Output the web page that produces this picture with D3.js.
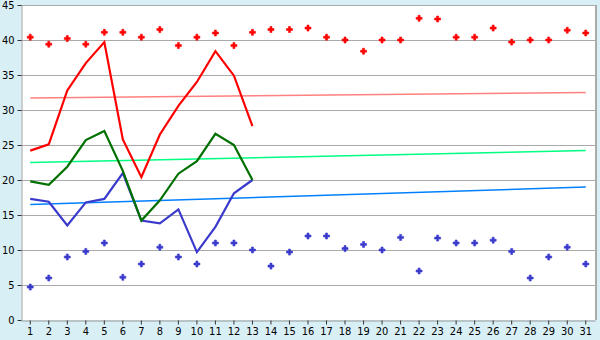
<!DOCTYPE html>
<html>
<head>
<meta charset="utf-8">
<script src="https://cdn.jsdelivr.net/npm/d3@7"></script>
<style>
  body { margin: 0; background: #d9eff6; }
  svg { display: block; }
  text { font-family: "DejaVu Sans Condensed", "DejaVu Sans", sans-serif; font-size: 11px; fill: #000; }
</style>
</head>
<body>
<svg id="chart" width="600" height="340"></svg>
<script>
var days = [1, 2, 3, 4, 5, 6, 7, 8, 9, 10, 11, 12, 13, 14, 15, 16,
            17, 18, 19, 20, 21, 22, 23, 24, 25, 26, 27, 28, 29, 30, 31];
var yTicks = [0, 5, 10, 15, 20, 25, 30, 35, 40, 45];

var redLine   = [24.2, 25.1, 32.8, 36.7, 39.7, 25.8, 20.4, 26.5, 30.6, 34.0, 38.4, 34.9, 27.7];
var greenLine = [19.8, 19.3, 21.9, 25.7, 27.0, 21.3, 14.2, 17.1, 20.9, 22.7, 26.6, 25.0, 20.0];
var blueLine  = [17.3, 16.9, 13.5, 16.8, 17.3, 21.0, 14.2, 13.8, 15.8, 9.7, 13.3, 18.1, 20.0];

var redDots = [40.4, 39.4, 40.2, 39.4, 41.1, 41.1, 40.4, 41.5, 39.2, 40.4, 41.0, 39.2, 41.1, 41.5, 41.5, 41.7,
               40.4, 40.0, 38.4, 40.0, 40.0, 43.1, 43.0, 40.4, 40.4, 41.7, 39.7, 40.0, 40.0, 41.4, 41.0];
var blueDots = [4.7, 6.0, 9.0, 9.8, 11.0, 6.1, 8.0, 10.4, 9.0, 8.0, 11.0, 11.0, 10.0, 7.7, 9.7, 12.0,
                12.0, 10.2, 10.8, 10.0, 11.8, 7.0, 11.7, 11.0, 11.0, 11.4, 9.8, 6.0, 9.0, 10.4, 8.0];

// trend lines: value at day 1 and day 31
var redTrend   = [31.7, 32.5];
var greenTrend = [22.5, 24.2];
var blueTrend  = [16.5, 19.0];

var svg = d3.select("#chart");
var plotLeft = 21, plotRight = 595, plotTop = 5, plotBottom = 320;

var x = d3.scaleBand().domain(days).range([plotLeft, plotRight]);
var y = d3.scaleLinear().domain([0, 45]).range([plotBottom, plotTop]);
var cx = function(d) { return x(d) + x.bandwidth() / 2; };

svg.append("rect")
    .attr("x", plotLeft).attr("y", plotTop)
    .attr("width", plotRight - plotLeft).attr("height", plotBottom - plotTop)
    .attr("fill", "#fff");

// grid
svg.append("g").selectAll("line").data(yTicks.filter(function(d) { return d > 0; }))
    .enter().append("line")
        .attr("x1", plotLeft).attr("x2", plotRight)
        .attr("y1", function(d) { return y(d) + 0.5; })
        .attr("y2", function(d) { return y(d) + 0.5; })
        .attr("stroke", "#aaa")
        .attr("shape-rendering", "crispEdges");

// frame right
svg.append("line")
    .attr("x1", plotRight + 1).attr("x2", plotRight + 1)
    .attr("y1", plotTop).attr("y2", plotBottom)
    .attr("stroke", "#aaa").attr("stroke-width", 2)
    .attr("shape-rendering", "crispEdges");

// axes
var yAxis = d3.axisLeft(y).tickValues(yTicks).tickSize(4).tickPadding(3).tickSizeOuter(0);
var gy = svg.append("g").attr("transform", "translate(" + (plotLeft + 0.5) + ",0)").call(yAxis);
gy.select(".domain").attr("stroke", "#999");
gy.selectAll(".tick line").attr("stroke", "#333");

var xAxis = d3.axisBottom(x).tickSize(4).tickPadding(3).tickSizeOuter(0);
var gx = svg.append("g").attr("transform", "translate(0," + (plotBottom + 0.5) + ")").call(xAxis);
gx.select(".domain").attr("stroke", "#999");
gx.selectAll(".tick line").attr("stroke", "#333");
svg.selectAll(".tick text").attr("fill", "#000").attr("font-family", null).attr("font-size", null);

// trend lines
var trends = [[redTrend, "#ff8080"], [greenTrend, "#00ff80"], [blueTrend, "#0080ff"]];
trends.forEach(function(t) {
    svg.append("line")
        .attr("x1", cx(days[0])).attr("x2", cx(days[days.length - 1]))
        .attr("y1", y(t[0][0])).attr("y2", y(t[0][1]))
        .attr("stroke", t[1]).attr("stroke-width", 1.5);
});

// series lines
var line = d3.line()
    .x(function(d, i) { return cx(days[i]); })
    .y(function(d) { return y(d); });

[[blueLine, "#3a3acc"], [greenLine, "#007000"], [redLine, "#ff0000"]].forEach(function(s) {
    svg.append("path")
        .datum(s[0])
        .attr("d", line)
        .attr("fill", "none")
        .attr("stroke", s[1])
        .attr("stroke-width", 2.2)
        .attr("stroke-linejoin", "miter");
});

// markers
var sym = d3.symbol().type(d3.symbolCross).size(20);
[[redDots, "#ff0000"], [blueDots, "#3a3acc"]].forEach(function(s) {
    svg.append("g").selectAll("path").data(s[0])
        .enter().append("path")
            .attr("d", sym)
            .attr("transform", function(d, i) {
                return "translate(" + cx(days[i]) + "," + y(d) + ")";
            })
            .attr("fill", s[1])
            .attr("stroke", s[1])
            .attr("stroke-width", 0.6);
});
</script>
</body>
</html>
